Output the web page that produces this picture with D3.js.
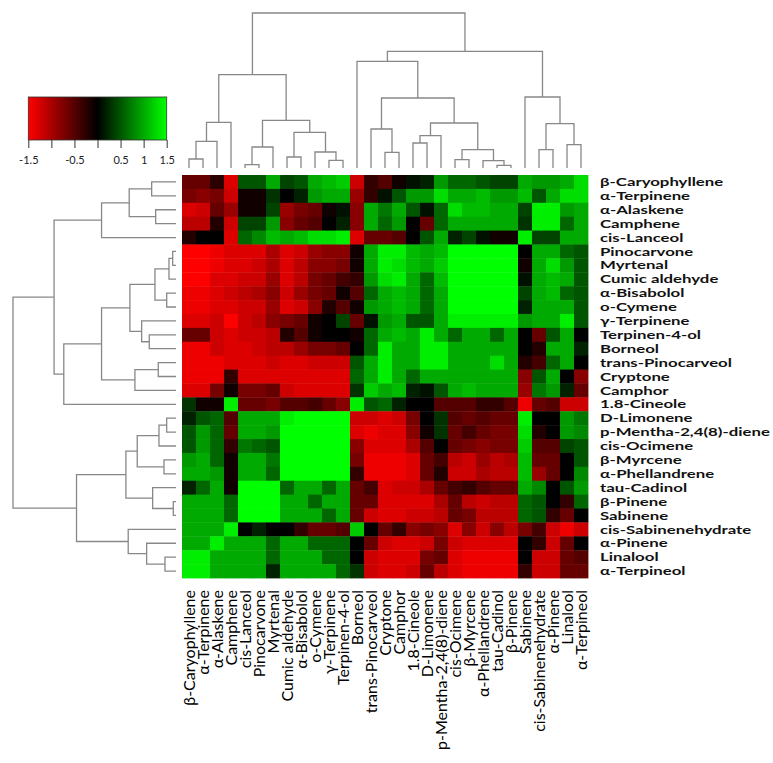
<!DOCTYPE html>
<html lang="en">
<head>
    <meta charset="UTF-8">
    <title>Heatmap With D3</title>
    <script src="https://d3js.org/d3.v7.min.js"></script>
    <style>
        body { margin: 0; background: #fff; }
    </style>
</head>
<body>
    <svg width="773" height="763" id="chart"></svg>

    <script>
        // Labels (same order for rows and columns)
        const rowLabels = ["β-Caryophyllene", "α-Terpinene", "α-Alaskene", "Camphene", "cis-Lanceol",
            "Pinocarvone", "Myrtenal", "Cumic aldehyde", "α-Bisabolol", "o-Cymene", "γ-Terpinene",
            "Terpinen-4-ol", "Borneol", "trans-Pinocarveol", "Cryptone", "Camphor", "1.8-Cineole",
            "D-Limonene", "p-Mentha-2,4(8)-diene", "cis-Ocimene", "β-Myrcene", "α-Phellandrene",
            "tau-Cadinol", "β-Pinene", "Sabinene", "cis-Sabinenehydrate", "α-Pinene", "Linalool", "α-Terpineol"];
        const colLabels = rowLabels.slice();

        // Cell values, one row per row label
        const values = [
            [-0.6,-0.6,-0.25,-1.3,0.5,0.5,1.0,0.4,0.5,1.0,1.1,1.2,-1.2,-0.3,-0.5,-0.1,0.1,0.2,0.9,0.6,0.6,0.5,0.4,0.4,1.0,0.9,0.9,1.0,1.3],
            [-0.7,-0.8,-0.7,-1.2,-0.1,-0.1,0.3,0.0,0.2,0.9,1.0,1.0,-0.9,-0.3,0.1,0.5,0.9,0.9,1.3,1.0,1.0,1.1,0.9,0.9,1.1,0.5,1.0,1.3,1.3],
            [-1.3,-1.2,-0.6,-0.9,-0.1,-0.1,0.4,-0.9,-0.7,-0.6,-0.1,0.1,-0.8,1.0,0.7,1.0,0.5,0.1,0.6,1.3,1.1,1.1,1.0,1.0,0.4,1.4,1.4,0.9,1.0],
            [-1.1,-1.1,-0.2,-1.2,0.4,0.4,0.9,-0.8,-0.6,-0.5,0.0,0.2,-0.8,1.0,0.6,0.9,0.0,-0.6,0.6,1.0,1.0,1.0,1.0,1.0,0.3,1.4,1.4,0.6,1.0],
            [-0.2,0.0,0.0,-1.3,0.6,0.8,1.1,1.0,1.1,1.3,1.3,1.4,-1.3,-0.6,-0.6,-0.5,0.0,0.5,1.0,0.2,0.4,0.1,-0.1,-0.1,1.4,0.4,0.4,1.0,1.0],
            [-1.5,-1.5,-1.4,-1.3,-1.3,-1.3,-1.0,-1.3,-1.2,-0.9,-0.8,-0.8,-0.1,1.0,1.4,1.4,1.1,1.0,1.1,1.5,1.5,1.5,1.5,1.5,0.0,1.0,1.0,0.6,0.5],
            [-1.5,-1.5,-1.4,-1.3,-1.3,-1.2,-1.0,-1.3,-1.1,-0.8,-0.8,-0.7,-0.1,1.0,1.4,1.3,1.1,1.0,1.2,1.5,1.5,1.5,1.5,1.5,-0.1,1.0,1.3,0.9,0.5],
            [-1.5,-1.5,-1.3,-1.3,-1.2,-1.2,-0.9,-1.3,-1.1,-0.7,-0.6,-0.4,-0.3,0.9,1.3,1.4,1.0,0.6,1.1,1.5,1.5,1.5,1.5,1.5,0.1,1.0,1.1,1.0,0.5],
            [-1.4,-1.4,-1.3,-1.2,-1.1,-1.0,-0.8,-1.2,-0.9,-0.7,-0.6,-0.1,-0.5,0.6,1.0,1.1,1.0,0.6,1.0,1.5,1.5,1.5,1.5,1.5,0.4,1.0,1.1,0.6,0.5],
            [-1.4,-1.4,-1.3,-1.3,-1.2,-1.2,-0.9,-1.3,-1.2,-0.8,-0.2,-0.5,-0.1,0.9,1.0,1.1,1.0,0.6,1.0,1.5,1.5,1.5,1.5,1.5,0.2,1.0,1.0,1.0,0.5],
            [-1.3,-1.3,-1.2,-1.5,-1.2,-1.1,-0.8,-0.7,-0.6,-0.1,0.0,0.4,-0.6,0.1,0.9,1.0,0.5,0.5,1.0,1.4,1.4,1.4,1.4,1.4,0.9,1.0,1.0,1.4,0.5],
            [-0.6,-0.6,-1.2,-1.3,-1.2,-1.2,-1.1,-0.2,-0.5,-0.1,0.0,0.0,-0.1,0.6,1.0,1.1,1.0,1.4,1.0,0.6,1.0,1.0,0.6,1.0,0.0,-0.6,0.5,1.0,0.0],
            [-1.4,-1.4,-1.2,-1.3,-1.3,-1.2,-1.1,-1.1,-0.9,-0.7,-0.7,-0.6,0.0,0.6,1.4,1.0,1.0,1.4,1.4,1.0,1.0,1.0,1.0,1.0,0.0,-0.2,1.0,1.0,0.2],
            [-1.4,-1.4,-1.4,-1.3,-1.3,-1.3,-1.2,-1.3,-1.3,-1.2,-1.2,-1.2,0.5,1.0,1.4,1.0,1.0,1.4,1.4,1.0,1.0,1.0,1.3,1.0,-0.2,-0.4,0.6,1.0,0.0],
            [-1.4,-1.4,-1.4,-0.3,-1.3,-1.3,-1.3,-1.3,-1.3,-1.3,-1.3,-1.3,0.6,1.0,1.4,1.0,0.6,1.0,1.0,1.0,1.0,1.0,1.0,1.0,-0.8,0.5,1.0,0.0,-0.8],
            [-1.3,-1.3,-0.7,-0.1,-0.7,-0.7,-0.6,-1.2,-1.3,-1.3,-1.3,-1.3,0.3,1.2,1.0,1.1,0.2,0.1,0.5,1.0,1.1,1.0,1.0,1.0,-0.9,0.7,0.9,0.2,-0.6],
            [0.3,-0.1,-0.1,1.4,-0.6,-0.6,-0.7,-0.5,-0.5,-0.4,-0.6,-0.8,1.4,0.5,0.6,0.2,0.0,0.0,-0.5,-0.5,-0.5,-0.3,-0.3,-0.5,-1.4,-0.6,-0.5,-1.2,-1.2],
            [0.2,0.5,0.6,-0.5,1.0,1.0,1.0,1.4,1.5,1.5,1.5,1.5,-1.2,-1.2,-1.3,-1.2,-0.7,0.0,0.3,-0.5,-0.6,-0.5,-0.6,-0.6,1.4,0.0,0.0,0.9,0.7],
            [0.5,0.9,0.6,-0.6,1.0,1.0,0.9,1.5,1.5,1.5,1.5,1.5,-1.3,-1.4,-1.3,-1.3,-0.8,-0.1,0.3,-0.6,-0.4,-0.6,-0.7,-0.7,1.3,-0.2,0.0,0.9,0.8],
            [0.5,0.9,0.6,-0.3,0.7,0.6,0.5,1.5,1.5,1.5,1.5,1.5,-0.8,-1.3,-1.3,-1.3,-1.0,-0.5,0.0,-0.6,-0.7,-0.8,-0.7,-0.7,1.2,-0.5,-0.5,0.4,0.5],
            [0.9,1.0,0.6,-0.1,1.0,1.0,0.7,1.5,1.5,1.5,1.5,1.5,-0.7,-1.4,-1.4,-1.4,-1.3,-0.6,-0.4,-1.1,-1.2,-0.9,-1.1,-1.0,1.1,-0.6,-0.6,0.0,0.5],
            [1.0,1.0,0.9,-0.1,1.0,1.0,0.6,1.5,1.5,1.5,1.5,1.5,-0.3,-1.4,-1.4,-1.4,-1.3,-0.6,-0.2,-1.2,-1.2,-1.0,-1.1,-1.1,1.1,-0.9,-0.6,0.0,0.8],
            [0.2,0.6,1.0,-0.1,1.5,1.5,1.5,0.6,1.0,1.0,0.6,1.0,-0.6,-0.4,-1.3,-1.2,-1.2,-1.0,-0.6,-0.4,-0.3,-0.5,-0.6,-0.6,1.0,0.8,0.0,0.5,0.9],
            [1.0,1.0,1.0,0.6,1.5,1.5,1.5,1.0,1.0,0.6,1.0,1.0,-0.6,-0.6,-1.3,-1.3,-1.3,-1.3,-1.0,-0.6,-1.1,-1.2,-1.1,-1.1,0.6,0.5,0.0,-0.3,0.6],
            [1.0,1.0,1.0,0.6,1.5,1.5,1.5,1.0,1.0,1.0,0.6,1.0,-0.6,-1.2,-1.3,-1.3,-1.2,-1.2,-1.1,-0.6,-0.7,-1.1,-1.1,-1.1,0.6,0.5,-0.3,-0.6,0.0],
            [1.0,1.0,1.0,1.4,0.0,0.2,0.0,0.0,-0.3,-0.6,-0.6,-0.5,1.2,0.0,-0.6,-0.3,-0.8,-0.7,-0.8,-1.3,-0.8,-1.2,-0.8,-1.1,-0.7,-0.4,-1.2,-1.4,-1.2],
            [1.0,1.0,1.4,1.0,1.0,1.0,0.6,1.0,1.0,0.6,0.6,0.6,0.0,-0.6,-1.2,-1.3,-1.3,-1.2,-0.7,-1.2,-1.3,-1.3,-1.3,-1.3,0.0,-0.3,-1.2,-0.6,0.0],
            [1.4,1.4,1.0,1.0,1.0,1.0,0.6,1.0,1.0,1.0,0.6,0.6,0.0,-1.2,-1.3,-1.3,-1.3,-0.7,-0.6,-1.3,-1.4,-1.4,-1.4,-1.4,0.0,-1.2,-1.2,-0.6,-0.5],
            [1.4,1.4,1.0,1.0,1.0,1.0,0.2,1.0,1.0,1.0,1.0,0.6,0.3,-1.2,-1.3,-1.3,-1.2,-0.6,-1.1,-1.3,-1.4,-1.4,-1.4,-1.4,-0.3,-1.2,-1.2,-0.6,-0.6]
        ];

        // Dendrogram merges, hclust style: negative = leaf (1-based), positive = earlier merge; third value = height
        const rowMerge = [
            [-1,-2,24.3], [-3,-4,20.3], [1,2,46.7], [3,-5,74.3],
            [-6,-7,3.3], [5,-8,7], [-9,-10,9.3], [6,7,21], [-12,-13,26.7], [-11,9,34.3], [8,10,46],
            [-14,-15,17.7], [12,-16,41], [11,13,74.3], [14,-17,112], [4,15,121.7],
            [-18,-19,9.3], [17,-20,17], [-21,-22,12], [18,19,38.7], [-24,-25,2.7], [-23,21,23.3], [20,22,50],
            [-28,-29,11], [-27,24,29.3], [-26,25,47.7], [23,26,99.3], [16,27,162.7]
        ];
        const colMerge = [
            [-1,-2,9], [1,-3,26.7], [2,-4,45.7],
            [-5,-6,3.3], [4,-7,21], [-8,-9,11], [-11,-12,7.7], [-10,7,16], [6,8,35.7], [5,9,47.7], [3,10,93.3],
            [-15,-16,15.7], [-14,12,39], [-17,-18,25], [14,-19,32.3], [-20,-21,8.3], [-23,-24,2.7], [-22,17,7.3],
            [16,18,18.3], [15,19,45], [13,20,70], [-13,21,106.7],
            [-26,-27,18.3], [-28,-29,23.3], [23,24,44.3], [-25,25,71], [22,26,116.7], [11,27,155]
        ];

        // Colour key
        const keyTicks = [-1.5, -1, -0.5, 0, 0.5, 1, 1.5];
        const keyTickLabels = ["-1.5", "", "-0.5", "", "0.5", "1", "1.5"];

        const svg = d3.select("#chart");
        const lineColor = "#888";
        const fontFamily = "Lato, 'Open Sans', sans-serif";

        svg.append("rect").attr("width", 773).attr("height", 763).attr("fill", "#fff");

        const color = d3.scaleLinear()
            .domain([-1.5, 0, 1.5])
            .range(["#ff0000", "#000000", "#00ff00"])
            .clamp(true);

        const x = d3.scaleBand().domain(d3.range(colLabels.length)).range([182, 588]);
        const y = d3.scaleBand().domain(d3.range(rowLabels.length)).range([175, 578]);

        // Cells
        const cells = [];
        values.forEach((row, i) => row.forEach((v, j) => cells.push({ i, j, v })));
        svg.append("g").selectAll("rect")
            .data(cells)
            .join("rect")
            .attr("x", d => x(d.j))
            .attr("y", d => y(d.i))
            .attr("width", x.bandwidth() + 0.4)
            .attr("height", y.bandwidth() + 0.4)
            .attr("fill", d => color(d.v));

        // Dendrograms
        function drawDendro(merge, leafPos, hScale, vertical) {
            const pos = [], hgt = [];
            const get = k => k < 0 ? [leafPos(-k - 1), 0] : [pos[k - 1], hgt[k - 1]];
            const g = svg.append("g")
                .attr("fill", "none")
                .attr("stroke", lineColor)
                .attr("stroke-width", 1.3);
            merge.forEach(([a, b, h], idx) => {
                const [pa, ha] = get(a);
                const [pb, hb] = get(b);
                pos[idx] = (pa + pb) / 2;
                hgt[idx] = h;
                const p = d3.path();
                if (vertical) {
                    p.moveTo(pa, hScale(ha)); p.lineTo(pa, hScale(h));
                    p.lineTo(pb, hScale(h)); p.lineTo(pb, hScale(hb));
                } else {
                    p.moveTo(hScale(ha), pa); p.lineTo(hScale(h), pa);
                    p.lineTo(hScale(h), pb); p.lineTo(hScale(hb), pb);
                }
                g.append("path").attr("d", p.toString());
            });
        }

        const colH = d3.scaleLinear().domain([0, d3.max(colMerge, d => d[2])]).range([168, 13]);
        drawDendro(colMerge, j => x(j) + x.bandwidth() / 2, colH, true);

        const rowH = d3.scaleLinear().domain([0, d3.max(rowMerge, d => d[2])]).range([176, 13]);
        drawDendro(rowMerge, i => y(i) + y.bandwidth() / 2, rowH, false);

        // Row labels (right): the reference text is wide and short, so stretch it sideways
        const rowText = svg.append("g").selectAll("text")
            .data(rowLabels)
            .join("text")
            .attr("dy", "0.36em")
            .style("font-family", fontFamily)
            .style("font-weight", "bold")
            .style("font-size", "11.5px")
            .style("fill", "#111")
            .text(d => d);
        const rowLongest = d3.max(rowText.nodes(), n => n.getComputedTextLength());
        const stretch = 170 / rowLongest;
        rowText.attr("transform", (d, i) =>
            `translate(600,${y(i) + y.bandwidth() / 2}) scale(${stretch.toFixed(3)},1)`);

        // Column labels (bottom, rotated)
        const colText = svg.append("g").selectAll("text")
            .data(colLabels)
            .join("text")
            .attr("transform", (d, j) => `translate(${x(j) + x.bandwidth() / 2},590) rotate(-90)`)
            .attr("text-anchor", "end")
            .attr("dy", "0.36em")
            .style("font-family", fontFamily)
            .style("font-size", "14px")
            .style("fill", "#000")
            .text(d => d);
        const colLongest = d3.max(colText.nodes(), n => n.getComputedTextLength());
        colText.style("font-size", (14 * 160 / colLongest).toFixed(2) + "px");

        // Colour key
        const kx = d3.scaleLinear().domain([-1.5, 1.5]).range([28.3, 166.7]);
        const grad = svg.append("defs").append("linearGradient")
            .attr("id", "keyGrad")
            .attr("x1", "0%").attr("x2", "100%");
        d3.range(-1.5, 1.51, 0.25).forEach(v => {
            grad.append("stop")
                .attr("offset", `${(v + 1.5) / 3 * 100}%`)
                .attr("stop-color", color(v));
        });
        svg.append("rect")
            .attr("x", kx(-1.5)).attr("y", 97)
            .attr("width", kx(1.5) - kx(-1.5)).attr("height", 43)
            .attr("fill", "url(#keyGrad)")
            .attr("stroke", "#333").attr("stroke-width", 0.8);

        const keyAxis = svg.append("g")
            .attr("transform", "translate(0,140)")
            .call(d3.axisBottom(kx)
                .tickValues(keyTicks)
                .tickSize(8)
                .tickFormat((d, i) => keyTickLabels[i]));
        keyAxis.select(".domain").remove();
        keyAxis.selectAll("line").attr("stroke", "#333");
        keyAxis.selectAll("text")
            .style("font-family", fontFamily)
            .style("font-size", "11px")
            .attr("dy", "1.2em")
            .style("fill", "#222");
    </script>
</body>
</html>
